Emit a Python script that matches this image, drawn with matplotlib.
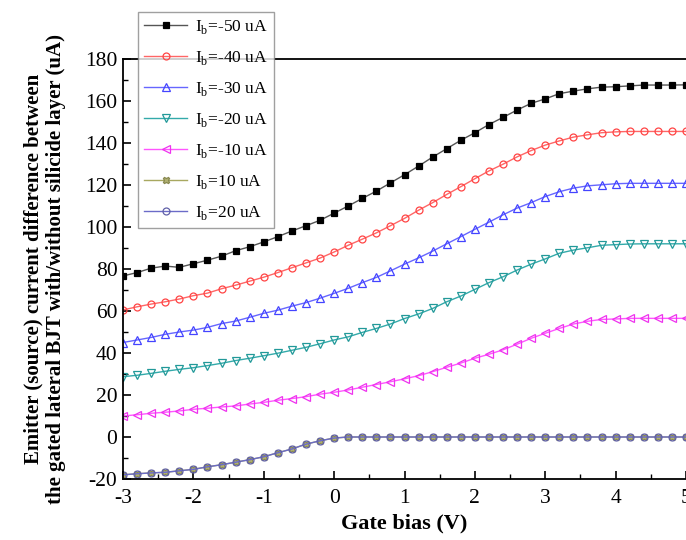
import numpy as np
import matplotlib
matplotlib.use("Agg")
import matplotlib.pyplot as plt
from matplotlib.ticker import MultipleLocator

plt.rcParams['font.family'] = ['Liberation Serif', 'DejaVu Serif']
plt.rcParams['mathtext.fontset'] = 'custom'
plt.rcParams['mathtext.rm'] = 'Liberation Serif'
plt.rcParams['axes.unicode_minus'] = False

gate_bias = [round(-3 + 0.2 * i, 1) for i in range(41)]

ib_m50 = [76.7, 78.3, 80.4, 81.4, 80.8, 82.5, 84.2, 86.1, 88.7, 90.6, 92.9, 95.4, 98.1, 100.6,
          103.2, 106.6, 110.0, 113.6, 117.1, 121.0, 124.9, 129.0, 133.3, 137.3, 141.3, 144.9, 148.8,
          152.2, 155.7, 158.9, 161.0, 163.5, 164.7, 165.8, 166.6, 166.8, 167.2, 167.6, 167.6, 167.6, 167.7]
ib_m40 = [60.5, 62.0, 63.3, 64.4, 65.7, 67.3, 68.5, 70.6, 72.3, 74.2, 76.1, 78.3, 80.6, 82.9,
          85.2, 88.1, 91.3, 94.2, 97.2, 100.6, 104.1, 108.0, 111.6, 115.5, 119.2, 123.0, 126.7,
          129.9, 133.4, 136.4, 139.0, 141.0, 142.8, 143.9, 144.9, 145.3, 145.5, 145.5, 145.5, 145.5, 145.5]
ib_m30 = [45.0, 46.2, 47.4, 48.9, 50.0, 50.9, 52.2, 54.0, 55.2, 57.0, 58.9, 60.4, 62.3, 64.0,
          66.1, 68.4, 70.8, 73.5, 76.0, 79.1, 82.3, 85.3, 88.5, 92.0, 95.4, 98.9, 102.3,
          105.8, 109.0, 111.6, 114.5, 116.8, 118.5, 119.6, 120.1, 120.6, 120.8, 120.8, 120.8, 120.8, 120.8]
ib_m20 = [28.7, 29.4, 30.3, 31.3, 32.2, 33.0, 34.0, 35.1, 36.4, 37.5, 38.7, 39.9, 41.3, 42.7,
          44.4, 46.2, 47.7, 49.8, 51.7, 53.8, 56.4, 58.6, 61.2, 64.4, 67.1, 70.3, 73.5,
          76.3, 79.5, 82.3, 84.8, 87.5, 89.0, 90.1, 91.3, 91.6, 91.9, 92.0, 92.0, 92.0, 92.0]
ib_m10 = [10.0, 10.6, 11.3, 11.8, 12.4, 13.2, 13.7, 14.3, 14.8, 15.7, 16.5, 17.5, 18.3, 19.2,
          20.4, 21.3, 22.4, 23.7, 25.0, 26.3, 27.7, 29.2, 31.1, 33.2, 35.2, 37.5, 39.4,
          41.5, 44.2, 47.0, 49.4, 51.7, 53.8, 55.1, 56.0, 56.2, 56.5, 56.5, 56.5, 56.5, 56.5]
ib_p10 = [-18.0, -17.5, -17.1, -16.8, -16.1, -15.4, -14.2, -13.2, -12.0, -10.8, -9.4, -7.5, -5.7, -3.4,
          -1.8, -0.5] + [0.0] * 25
ib_p20 = [-18.0, -17.5, -17.1, -16.8, -16.1, -15.4, -14.2, -13.2, -12.0, -10.8, -9.4, -7.5, -5.7, -3.4,
          -1.8, -0.5] + [0.0] * 25

labels = ['I$_\\mathregular{b}$=-50 uA', 'I$_\\mathregular{b}$=-40 uA', 'I$_\\mathregular{b}$=-30 uA',
          'I$_\\mathregular{b}$=-20 uA', 'I$_\\mathregular{b}$=-10 uA', 'I$_\\mathregular{b}$=10 uA',
          'I$_\\mathregular{b}$=20 uA']
x_ticks = [-3, -2, -1, 0, 1, 2, 3, 4, 5]
y_ticks = [-20, 0, 20, 40, 60, 80, 100, 120, 140, 160, 180]

series = [ib_m50, ib_m40, ib_m30, ib_m20, ib_m10, ib_p10, ib_p20]
styles = [
    dict(color='#555555', marker='s', mfc='black', mec='black', ms=4.5),
    dict(color='#ff6666', marker='o', mfc='none', mec='#ff4444', ms=5),
    dict(color='#6666ff', marker='^', mfc='none', mec='#4444ff', ms=5.5),
    dict(color='#33aaaa', marker='v', mfc='none', mec='#229999', ms=5.5),
    dict(color='#ff55ff', marker='<', mfc='none', mec='#ee33ee', ms=5.5),
    dict(color='#a8a860', marker='X', mfc='#b0b070', mec='#888850', ms=5),
    dict(color='#6b6bc8', marker='o', mfc='none', mec='#6060a8', ms=5),
]

fig = plt.figure(figsize=(6.86, 5.40), dpi=100)
ax = fig.add_axes([123 / 686, 1 - 479 / 540, 1 - 123 / 686, (479 - 59) / 540])

handles = []
for ys, st, lab in zip(series, styles, labels):
    h, = ax.plot(gate_bias, ys, lw=1.0, markeredgewidth=0.9, label=lab, **st)
    handles.append(h)

ax.set_xlim(-3, 5)
ax.set_ylim(-20, 180)
ax.set_xticks(x_ticks)
ax.set_yticks(y_ticks)
ax.xaxis.set_minor_locator(MultipleLocator(0.5))
ax.yaxis.set_minor_locator(MultipleLocator(10))
ax.tick_params(which='major', direction='in', length=6, width=1.2, labelsize=15.5, top=False, right=False)
ax.tick_params(which='minor', direction='in', length=3.5, width=1.0, top=False, right=False)
ax.tick_params(axis='x', pad=7)
ax.tick_params(axis='y', pad=4)
for s in ['left', 'bottom', 'top']:
    ax.spines[s].set_linewidth(1.3)
ax.spines['right'].set_visible(False)

ax.set_xlabel('Gate bias (V)', fontsize=16, fontweight='bold', labelpad=4)
ax.set_ylabel('Emitter (source) current difference between\nthe gated lateral BJT with/without silicide layer (uA)',
              fontsize=15, fontweight='bold', labelpad=14, linespacing=1.15)

leg = fig.legend(handles=handles, loc='upper left', bbox_to_anchor=(138 / 686, 1 - 12 / 540),
                 borderaxespad=0, fontsize=12.5, frameon=True, fancybox=False,
                 edgecolor='#888888', handlelength=2.5, handletextpad=0.45,
                 labelspacing=0.75, borderpad=0.35)
leg.get_frame().set_linewidth(1.0)

fig.savefig('out.png', dpi=100)
